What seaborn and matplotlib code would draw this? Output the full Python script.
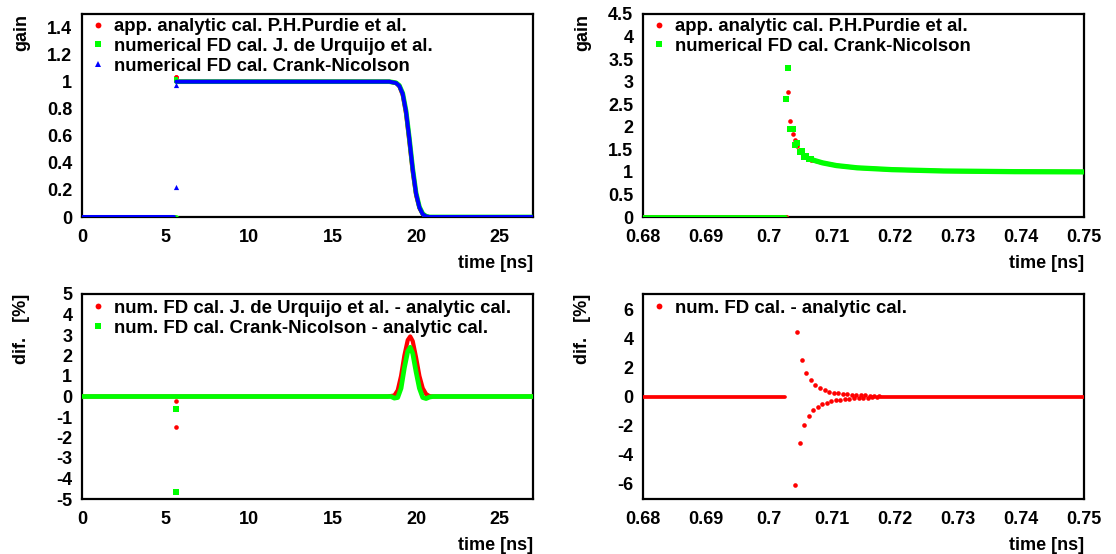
import matplotlib
matplotlib.use('Agg')
import matplotlib.pyplot as plt
from matplotlib.lines import Line2D
from matplotlib.ticker import MultipleLocator, FuncFormatter
import seaborn as sns

#________________________________Data_read_from_the_picture________________________________
# top left: gain over the full time range (0-27 ns)
tl_zero_purdie_t   = [0.0, 5.55]
tl_zero_urquijo_t  = [0.0, 5.65]
tl_zero_cn_t       = [0.0, 5.52]
tl_zero_y          = [0.0, 0.0]
tl_start_t         = [5.6, 5.6]
tl_start_purdie    = [1.036, 1.036]
tl_start_urquijo   = [1.02, 1.02]
tl_start_cn        = [0.974, 0.222]
tl_time            = [5.65, 18.4, 18.8, 19.0, 19.2, 19.4, 19.6, 19.8, 20.0, 20.2, 20.4, 20.6, 20.8, 27.0]
tl_gain_purdie     = [1.0, 1.0, 0.99, 0.965, 0.90, 0.76, 0.55, 0.33, 0.16, 0.065, 0.02, 0.005, 0.0, 0.0]
tl_gain_urquijo    = [1.0, 1.0, 0.992, 0.972, 0.915, 0.785, 0.58, 0.357, 0.178, 0.075, 0.024, 0.006, 0.0, 0.0]
tl_gain_cn         = [1.0, 1.0, 0.99, 0.968, 0.91, 0.778, 0.574, 0.35, 0.172, 0.07, 0.02, 0.004, 0.0, 0.0]

# top right: gain around the start (0.68-0.75 ns)
tr_zero_purdie_t   = [0.68, 0.70283]
tr_zero_cn_t       = [0.68, 0.70255]
tr_zero_y          = [0.0, 0.0]
tr_purdie_t        = [0.70302, 0.70338, 0.70376, 0.70413, 0.70449, 0.70485, 0.70521, 0.70557, 0.70593, 0.70629, 0.70665]
tr_purdie_gain     = [2.78, 2.13, 1.85, 1.70, 1.57, 1.49, 1.42, 1.37, 1.33, 1.30, 1.27]
tr_cn_t            = [0.70266, 0.70302, 0.70338, 0.70376, 0.70413, 0.70449, 0.70485, 0.70521, 0.70557, 0.70593, 0.70629, 0.70665]
tr_cn_gain         = [2.61, 3.30, 1.95, 1.95, 1.60, 1.64, 1.44, 1.46, 1.34, 1.35, 1.28, 1.284]
tr_tail_t          = [0.70665, 0.7068, 0.7085, 0.7107, 0.714, 0.7195, 0.7277, 0.739, 0.75]
tr_tail_purdie     = [1.27, 1.26, 1.20, 1.14, 1.09, 1.05, 1.02, 1.005, 1.0]
tr_tail_cn         = [1.284, 1.27, 1.20, 1.14, 1.09, 1.05, 1.02, 1.005, 1.0]

# bottom left: difference [%] to the analytic calculation
bl_urquijo_t       = [0.0, 18.3, 18.7, 18.9, 19.1, 19.3, 19.5, 19.65, 19.8, 20.0, 20.2, 20.4, 20.6, 20.8, 21.0, 27.0]
bl_urquijo_dif     = [0.0, 0.0, 0.05, 0.3, 1.0, 2.0, 2.75, 2.93, 2.7, 1.9, 1.0, 0.4, 0.12, 0.02, 0.0, 0.0]
bl_cn_t            = [0.0, 18.5, 18.7, 18.9, 19.1, 19.3, 19.5, 19.65, 19.8, 20.0, 20.2, 20.4, 20.6, 20.8, 21.0, 27.0]
bl_cn_dif          = [0.0, 0.0, -0.08, -0.05, 0.4, 1.4, 2.2, 2.4, 2.1, 1.2, 0.4, -0.05, -0.1, -0.03, 0.0, 0.0]
bl_start_t         = [5.61, 5.61]
bl_start_urquijo   = [-0.21, -1.48]
bl_start_cn        = [-0.6, -4.64]

# bottom right: difference [%] around the start
br_zero_t          = [0.68, 0.70254]
br_zero_y          = [0.0, 0.0]
br_t = [0.70413, 0.70449, 0.70485, 0.70521, 0.70557, 0.70593, 0.70629, 0.70665, 0.70701, 0.70737,
        0.70773, 0.70809, 0.70845, 0.70881, 0.70917, 0.70953, 0.70989, 0.71025, 0.71061, 0.71097,
        0.71133, 0.71169, 0.71205, 0.71241, 0.71277, 0.71313, 0.71349, 0.71385, 0.71421, 0.71457,
        0.71493, 0.71529, 0.71565, 0.71601, 0.71637, 0.71673, 0.71709, 0.71745]
br_dif = [-6.14, 4.48, -3.23, 2.51, -2.00, 1.65, -1.33, 1.12, -0.96, 0.80,
          -0.71, 0.59, -0.55, 0.45, -0.44, 0.34, -0.34, 0.27, -0.27, 0.23,
          -0.23, 0.18, -0.19, 0.14, -0.14, 0.12, -0.12, 0.10, -0.10, 0.08,
          -0.08, 0.07, -0.07, 0.06, -0.06, 0.05, -0.05, 0.04]
br_tail_t          = [0.7178, 0.75]
br_tail_y          = [0.0, 0.0]

RED, GREEN, BLUE = '#ff0000', '#00ff00', '#0000ff'

#________________________________Style______________________________________________________
sns.set_theme(style='white')
plt.rcParams['font.family'] = ['Liberation Sans', 'DejaVu Sans']
plt.rcParams['font.weight'] = 'bold'
plt.rcParams['axes.labelweight'] = 'bold'
plt.rcParams['text.color'] = 'black'
plt.rcParams['axes.labelcolor'] = 'black'

W, H = 1116, 554
fig = plt.figure(figsize=(W / 100, H / 100), dpi=100)

def px_axes(left, top, right, bottom):
    return fig.add_axes([left / W, 1 - bottom / H, (right - left) / W, (bottom - top) / H])

ax_tl = px_axes(82, 14, 533, 217)
ax_tr = px_axes(643, 14, 1084, 217)
ax_bl = px_axes(82, 294, 533, 499)
ax_br = px_axes(643, 294, 1084, 499)

fmt = FuncFormatter(lambda v, p: f"{round(v, 6) + 0.0:g}")

def frame(ax, xlim, ylim, xmaj, xmin, ymaj, ymin, ylabel, ylab_x):
    ax.set_xlim(xlim)
    ax.set_ylim(ylim)
    ax.xaxis.set_major_locator(MultipleLocator(xmaj))
    ax.xaxis.set_minor_locator(MultipleLocator(xmin))
    ax.yaxis.set_major_locator(MultipleLocator(ymaj))
    ax.yaxis.set_minor_locator(MultipleLocator(ymin))
    ax.xaxis.set_major_formatter(fmt)
    ax.yaxis.set_major_formatter(fmt)
    ax.tick_params(which='both', direction='in', top=False, right=False, color='black',
                   labelsize=13, labelcolor='black')
    ax.tick_params(axis='x', which='major', length=4.3, width=1.6, pad=9)
    ax.tick_params(axis='x', which='minor', length=2.2, width=1.3)
    ax.tick_params(axis='y', which='major', length=6.5, width=1.6, pad=7)
    ax.tick_params(axis='y', which='minor', length=3.2, width=1.3)
    for sp in ax.spines.values():
        sp.set_linewidth(1.6)
        sp.set_color('black')
    ax.set_xlabel('time [ns]', loc='right', fontsize=13, labelpad=6)
    ax.set_ylabel(ylabel, loc='top', fontsize=13)
    ax.yaxis.set_label_coords(ylab_x, 1.0)

def run(ax, t, y, color, lw):
    sns.lineplot(x=t, y=y, ax=ax, color=color, linewidth=lw, sort=False, zorder=3,
                 estimator=None, solid_capstyle='round', legend=False)

def dots(ax, t, y, color, marker, s):
    sns.scatterplot(x=t, y=y, ax=ax, color=color, marker=marker, s=s, zorder=3,
                    linewidth=0, legend=False)

def handle(color, marker, size):
    return Line2D([], [], linestyle='', marker=marker, color=color,
                  markersize=size, markeredgewidth=0)

def key(ax, handles, labels, top):
    ax.legend(handles, labels, loc='upper left', bbox_to_anchor=(0.02, top),
              frameon=False, fontsize=13.4, handlelength=0.8, handletextpad=0.45,
              labelspacing=0.15, borderpad=0.0, borderaxespad=0.0, labelcolor='black')

#________________________________Top_left__________________________________________________
run(ax_tl, tl_zero_purdie_t, tl_zero_y, RED, 2.9)
run(ax_tl, tl_time, tl_gain_purdie, RED, 2.9)
dots(ax_tl, tl_start_t, tl_start_purdie, RED, 'o', 11)
run(ax_tl, tl_zero_urquijo_t, tl_zero_y, GREEN, 3.4)
run(ax_tl, tl_time, tl_gain_urquijo, GREEN, 3.4)
dots(ax_tl, tl_start_t, tl_start_urquijo, GREEN, 's', 12)
run(ax_tl, tl_zero_cn_t, tl_zero_y, BLUE, 2.9)
run(ax_tl, tl_time, tl_gain_cn, BLUE, 2.9)
dots(ax_tl, tl_start_t, tl_start_cn, BLUE, '^', 14)
frame(ax_tl, (0, 27), (0, 1.5), 5, 1, 0.2, 0.04, 'gain', -0.115)
key(ax_tl, [handle(RED, 'o', 4.2), handle(GREEN, 's', 4.2), handle(BLUE, '^', 4.6)],
    ['app. analytic cal. P.H.Purdie et al.',
     'numerical FD cal. J. de Urquijo et al.',
     'numerical FD cal. Crank-Nicolson'], 0.98)

#________________________________Top_right_________________________________________________
run(ax_tr, tr_zero_purdie_t, tr_zero_y, RED, 2.9)
dots(ax_tr, tr_purdie_t, tr_purdie_gain, RED, 'o', 11)
run(ax_tr, tr_tail_t, tr_tail_purdie, RED, 2.9)
run(ax_tr, tr_zero_cn_t, tr_zero_y, GREEN, 3.5)
dots(ax_tr, tr_cn_t, tr_cn_gain, GREEN, 's', 14)
run(ax_tr, tr_tail_t, tr_tail_cn, GREEN, 3.8)
frame(ax_tr, (0.68, 0.75), (0, 4.5), 0.01, 0.002, 0.5, 0.1, 'gain', -0.118)
key(ax_tr, [handle(RED, 'o', 4.2), handle(GREEN, 's', 4.2)],
    ['app. analytic cal. P.H.Purdie et al.',
     'numerical FD cal. Crank-Nicolson'], 0.98)

#________________________________Bottom_left_______________________________________________
run(ax_bl, bl_urquijo_t, bl_urquijo_dif, RED, 3.0)
dots(ax_bl, bl_start_t, bl_start_urquijo, RED, 'o', 11)
run(ax_bl, bl_cn_t, bl_cn_dif, GREEN, 3.4)
dots(ax_bl, bl_start_t, bl_start_cn, GREEN, 's', 13)
frame(ax_bl, (0, 27), (-5, 5), 5, 1, 1, 0.2, 'dif.   [%]', -0.115)
key(ax_bl, [handle(RED, 'o', 4.2), handle(GREEN, 's', 4.2)],
    ['num. FD cal. J. de Urquijo et al. - analytic cal.',
     'num. FD cal. Crank-Nicolson - analytic cal.'], 0.972)

#________________________________Bottom_right______________________________________________
run(ax_br, br_zero_t, br_zero_y, RED, 2.7)
dots(ax_br, br_t, br_dif, RED, 'o', 11)
run(ax_br, br_tail_t, br_tail_y, RED, 2.7)
frame(ax_br, (0.68, 0.75), (-7.1, 7.1), 0.01, 0.002, 2, 0.4, 'dif.   [%]', -0.118)
key(ax_br, [handle(RED, 'o', 4.2)], ['num. FD cal. - analytic cal.'], 0.972)

fig.savefig('out.png', dpi=100)
